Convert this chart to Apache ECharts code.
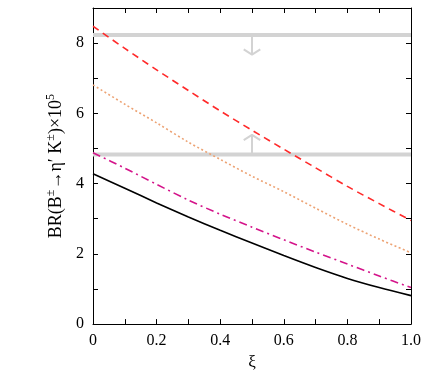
<!DOCTYPE html>
<html>
<head>
<meta charset="utf-8">
<script src="https://cdn.jsdelivr.net/npm/echarts@6/dist/echarts.min.js"></script>
<style>
  html, body { margin: 0; padding: 0; background: #fff; }
  #chart { width: 436px; height: 376px; }
</style>
</head>
<body>
<div id="chart"></div>
<script>
// ξ 取值
const xi = [0, 0.1, 0.2, 0.3, 0.4, 0.5, 0.6, 0.7, 0.8, 0.9, 1.0];
// 四条曲线
const redDashed = [8.48, 7.85, 7.24, 6.65, 6.07, 5.52, 4.98, 4.45, 3.92, 3.43, 2.95];
const orangeDotted = [6.81, 6.26, 5.73, 5.18, 4.69, 4.21, 3.77, 3.30, 2.84, 2.42, 2.03];
const magentaDashDot = [4.88, 4.44, 3.98, 3.53, 3.13, 2.76, 2.40, 2.05, 1.71, 1.37, 1.04];
const blackSolid = [4.28, 3.87, 3.45, 3.05, 2.67, 2.31, 1.95, 1.61, 1.30, 1.04, 0.81];
// 实验上下限 (灰线) 及箭头位置
const upperLimit = 8.23;
const lowerLimit = 4.83;
const arrowXi = 0.5;
const arrowLen = 0.56;

function pairs(ys) {
    return xi.map((x, i) => [x, ys[i]]);
}

// 箭头: 竖线 + 开口V形头
function arrow(y0, dir) {
    const tip = y0 + dir * arrowLen;
    const dx = 0.026, dy = 0.15;
    return [
        [arrowXi, y0], [arrowXi, tip], null,
        [arrowXi - dx, tip - dir * dy], [arrowXi, tip], [arrowXi + dx, tip - dir * dy]
    ];
}

const font = 'Liberation Serif';
const gray = '#d3d3d3';

let myChart = echarts.init(document.getElementById('chart'));

function curve(data, color, type, width) {
    return {
        type: 'line',
        data: pairs(data),
        smooth: 0.3,
        symbol: 'none',
        lineStyle: { color: color, width: width, type: type },
        z: 5
    };
}

const axisLine = { onZero: false, lineStyle: { color: '#000', width: 1 } };
const axisTick = { show: true, inside: true, length: 5, lineStyle: { color: '#000' } };

let options = {
    animation: false,
    textStyle: { fontFamily: font },
    grid: { left: 93, right: 25, top: 8, bottom: 42 },
    xAxis: [
        {
            type: 'value', min: 0, max: 1, interval: 0.1,
            name: 'ξ', nameLocation: 'middle', nameGap: 24,
            nameTextStyle: { fontFamily: font, fontSize: 17, color: '#000' },
            axisLine: axisLine,
            axisTick: axisTick,
            axisLabel: {
                fontFamily: font, fontSize: 16, color: '#000', margin: 9,
                formatter: v => {
                    const k = Math.round(v * 10);
                    if (k % 2 !== 0) return '';
                    return k === 0 ? '0' : v.toFixed(1);
                }
            },
            splitLine: { show: false }
        },
        {
            type: 'value', min: 0, max: 1, interval: 0.1, position: 'top',
            axisLine: axisLine,
            axisTick: axisTick,
            axisLabel: { show: false },
            splitLine: { show: false }
        }
    ],
    yAxis: [
        {
            type: 'value', min: 0, max: 9, interval: 1,
            name: '{t|BR(B}{s|±}{t|→η′ K}{s|±}{t|)×10}{s|5}',
            nameLocation: 'middle', nameGap: 27,
            nameTextStyle: {
                rich: {
                    t: { fontFamily: font, fontSize: 18, color: '#000', verticalAlign: 'bottom' },
                    s: { fontFamily: font, fontSize: 12, color: '#000', verticalAlign: 'bottom', padding: [0, 0, 8, 0] }
                }
            },
            axisLine: axisLine,
            axisTick: axisTick,
            axisLabel: {
                fontFamily: font, fontSize: 16, color: '#000', margin: 9,
                formatter: v => (v % 2 === 0 ? String(v) : '')
            },
            splitLine: { show: false }
        },
        {
            type: 'value', min: 0, max: 9, interval: 1, position: 'right',
            axisLine: { show: true, onZero: false, lineStyle: { color: '#000', width: 1 } },
            axisTick: axisTick,
            axisLabel: { show: false },
            splitLine: { show: false }
        }
    ],
    series: [
        {
            type: 'line', data: [[0, upperLimit], [1, upperLimit]], symbol: 'none',
            lineStyle: { color: gray, width: 4 }, z: 1
        },
        {
            type: 'line', data: [[0, lowerLimit], [1, lowerLimit]], symbol: 'none',
            lineStyle: { color: gray, width: 4 }, z: 1
        },
        {
            type: 'line', data: arrow(upperLimit, -1), symbol: 'none', connectNulls: false,
            lineStyle: { color: gray, width: 2 }, z: 1
        },
        {
            type: 'line', data: arrow(lowerLimit, 1), symbol: 'none', connectNulls: false,
            lineStyle: { color: gray, width: 2 }, z: 1
        },
        curve(redDashed, '#ff2a2a', [7, 5], 1.6),
        curve(orangeDotted, '#eda374', [2, 2.5], 1.6),
        curve(magentaDashDot, '#d4148a', [8, 4, 2, 4], 1.6),
        curve(blackSolid, '#000000', 'solid', 1.6)
    ]
};
myChart.setOption(options);
</script>
</body>
</html>
